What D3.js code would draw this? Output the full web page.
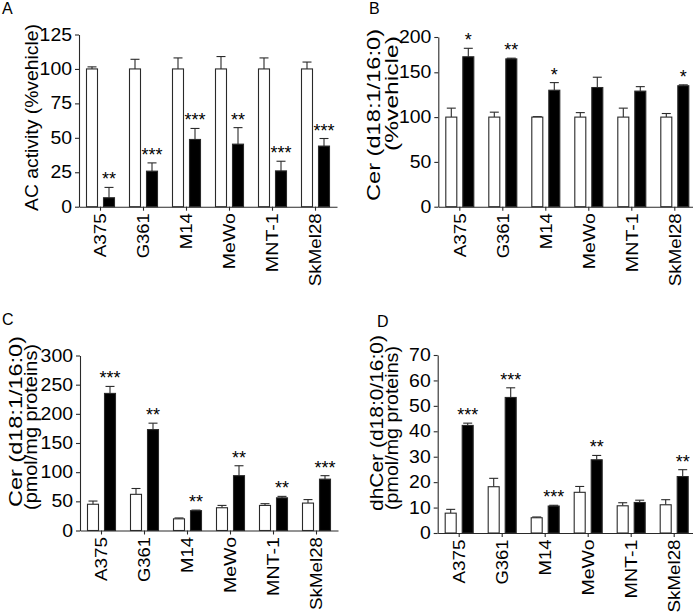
<!DOCTYPE html>
<html>
<head>
<meta charset="utf-8">
<script src="https://cdn.jsdelivr.net/npm/d3@7"></script>
<style>
  html, body { margin: 0; padding: 0; background: #fff; }
  svg { display: block; font-family: "Liberation Sans", Arial, Helvetica, sans-serif; }
</style>
</head>
<body>
<svg id="chart" width="693" height="616"></svg>
<script>
// ---------- data ----------
const categories = ["A375", "G361", "M14", "MeWo", "MNT-1", "SkMel28"];

// Panel A: AC activity (%vehicle)
const aVehicle     = [100, 100, 100, 100, 100, 100];
const aVehicleErr  = [1.5, 7, 8, 9, 8, 5];
const aTreated     = [6.5, 25.8, 48.8, 45.4, 26, 44];
const aTreatedErr  = [7.5, 6, 8, 12, 7, 5.5];
const aStars       = ["**", "***", "***", "**", "***", "***"];
const aTicks       = [0, 25, 50, 75, 100, 125];

// Panel B: Cer (d18:1/16:0) (%vehicle)
const bVehicle     = [100, 100, 100, 100, 100, 100];
const bVehicleErr  = [10, 5.5, 0.5, 5, 10, 4];
const bTreated     = [172, 169, 130, 133, 129, 135];
const bTreatedErr  = [12, 1, 8.5, 11.5, 5, 1];
const bStars       = ["*", "**", "*", "", "", "*"];
const bTicks       = [0, 50, 100, 150, 200];

// Panel C: Cer (d18:1/16:0) (pmol/mg proteins)
const cVehicle     = [45, 62, 20, 39, 43, 47];
const cVehicleErr  = [5.5, 10, 1.5, 4, 3, 6];
const cTreated     = [235, 173, 34, 94, 56, 88];
const cTreatedErr  = [12, 11, 1, 17, 2.5, 6];
const cStars       = ["***", "**", "**", "**", "**", "***"];
const cTicks       = [0, 50, 100, 150, 200, 250, 300];

// Panel D: dhCer (d18:0/16:0) (pmol/mg proteins)
const dVehicle     = [7.8, 18.2, 6, 16, 10.7, 11.1];
const dVehicleErr  = [1.5, 3.3, 0.3, 2.3, 1.2, 2];
const dTreated     = [42.3, 53.3, 10.6, 28.8, 12, 22.2];
const dTreatedErr  = [0.9, 3.8, 0.3, 1.7, 0.9, 2.7];
const dStars       = ["***", "***", "***", "**", "", "**"];
const dTicks       = [0, 10, 20, 30, 40, 50, 60, 70];

// ---------- layout ----------
const svg = d3.select("#chart");
const FONT = "Liberation Sans, Arial, Helvetica, sans-serif";
const INK = "#2a2a2a";
// rendered lengths (px) of the rotated category labels in the figure
const xLabelLen = { "A375": 44, "G361": 45, "M14": 36, "MeWo": 56, "MNT-1": 59, "SkMel28": 73 };
const TICK_FS = 17.5, TICK_CHAR = 10.8;   // y tick labels: size and width per character
const XLAB_FS = 17;

const panels = [
  { letter: "A", lx: 2, ly: 14,
    x0: 79, step: 43, domain: [0, 125], range: [206.7, 34.5],
    vehicle: aVehicle, vehicleErr: aVehicleErr, treated: aTreated, treatedErr: aTreatedErr,
    stars: aStars, ticks: aTicks,
    titles: [{ text: "AC activity (%vehicle)", x: 38, y: 211, len: 187, size: 19 }] },
  { letter: "B", lx: 369, ly: 14,
    x0: 438.3, step: 43, domain: [0, 150, 200], range: [206.7, 72.3, 37],
    vehicle: bVehicle, vehicleErr: bVehicleErr, treated: bTreated, treatedErr: bTreatedErr,
    stars: bStars, ticks: bTicks,
    titles: [{ text: "Cer (d18:1/16:0)", x: 380, y: 201, len: 172, size: 19 },
             { text: "(%vehicle)", x: 398, y: 151, len: 115, size: 19 }] },
  { letter: "C", lx: 2, ly: 325,
    x0: 80, step: 43, domain: [0, 300], range: [530.5, 355.5],
    vehicle: cVehicle, vehicleErr: cVehicleErr, treated: cTreated, treatedErr: cTreatedErr,
    stars: cStars, ticks: cTicks,
    titles: [{ text: "Cer (d18:1/16:0)", x: 22, y: 507, len: 171, size: 19 },
             { text: "(pmol/mg proteins)", x: 37, y: 510, len: 166, size: 19 }] },
  { letter: "D", lx: 377, ly: 327,
    x0: 437.7, step: 43, domain: [0, 70], range: [533, 355],
    vehicle: dVehicle, vehicleErr: dVehicleErr, treated: dTreated, treatedErr: dTreatedErr,
    stars: dStars, ticks: dTicks,
    titles: [{ text: "dhCer (d18:0/16:0)", x: 383, y: 511, len: 176, size: 19 },
             { text: "(pmol/mg proteins)", x: 398, y: 510, len: 164, size: 19 }] }
];

panels.forEach(p => {
  const g = svg.append("g");
  const x = d3.scaleBand().domain(categories)
    .range([p.x0, p.x0 + p.step * categories.length]).paddingInner(0).paddingOuter(0);
  const sub = d3.scaleBand().domain(["vehicle", "treated"])
    .range([0, x.bandwidth()]).paddingInner(0.353).paddingOuter(0.441);
  const y = d3.scaleLinear().domain(p.domain).range(p.range);
  const y0 = y(0);

  // panel letter
  g.append("text").attr("x", p.lx).attr("y", p.ly)
    .attr("font-size", 16).attr("font-family", FONT).attr("fill", "#000").text(p.letter);

  // y axis
  const ya = g.append("g").attr("transform", `translate(${p.x0},0)`)
    .call(d3.axisLeft(y).tickValues(p.ticks).tickSize(4).tickPadding(3).tickSizeOuter(0));
  ya.select(".domain").attr("stroke", INK).attr("stroke-width", 1.1);
  ya.selectAll(".tick line").attr("stroke", INK).attr("stroke-width", 1.1);
  ya.selectAll(".tick text")
    .attr("font-size", TICK_FS).attr("font-family", FONT).attr("fill", "#000")
    .attr("textLength", d => TICK_CHAR * String(d).length)
    .attr("lengthAdjust", "spacingAndGlyphs");

  // x axis
  const xa = g.append("g").attr("transform", `translate(0,${y0})`)
    .call(d3.axisBottom(x).tickSize(4).tickPadding(3).tickSizeOuter(0));
  xa.select(".domain").attr("stroke", INK).attr("stroke-width", 1.1);
  xa.selectAll(".tick line").attr("stroke", INK).attr("stroke-width", 1.1);
  xa.selectAll(".tick text")
    .attr("font-size", XLAB_FS).attr("font-family", FONT).attr("fill", "#000")
    .attr("transform", "rotate(-90)")
    .attr("text-anchor", "end")
    .attr("x", -6.5).attr("y", 0).attr("dy", "0.35em")
    .attr("textLength", d => xLabelLen[d])
    .attr("lengthAdjust", "spacingAndGlyphs");

  // bars
  const rows = categories.map((c, i) => ({
    c, i,
    series: [
      { key: "vehicle", v: p.vehicle[i], e: p.vehicleErr[i], fill: "#fff" },
      { key: "treated", v: p.treated[i], e: p.treatedErr[i], fill: "#000" }
    ]
  }));

  const grp = g.selectAll(".grp").data(rows).join("g")
    .attr("transform", d => `translate(${x(d.c)},0)`);

  grp.selectAll(".err").data(d => d.series).join("g").each(function(s) {
    const cx = sub(s.key) + sub.bandwidth() / 2;
    const sel = d3.select(this);
    sel.append("line").attr("x1", cx).attr("x2", cx)
      .attr("y1", y(s.v)).attr("y2", y(s.v + s.e))
      .attr("stroke", INK).attr("stroke-width", 1.1);
    sel.append("line").attr("x1", cx - 4.5).attr("x2", cx + 4.5)
      .attr("y1", y(s.v + s.e)).attr("y2", y(s.v + s.e))
      .attr("stroke", INK).attr("stroke-width", 1.1);
  });

  grp.selectAll("rect").data(d => d.series).join("rect")
    .attr("x", s => sub(s.key))
    .attr("width", sub.bandwidth())
    .attr("y", s => y(s.v))
    .attr("height", s => y0 - y(s.v))
    .attr("fill", s => s.fill)
    .attr("stroke", INK).attr("stroke-width", 1.1);

  // significance stars
  grp.append("text")
    .attr("x", sub("treated") + sub.bandwidth() / 2)
    .attr("y", d => y(d.series[1].v + d.series[1].e) - 2)
    .attr("text-anchor", "middle")
    .attr("font-size", 18).attr("font-family", FONT).attr("fill", "#000")
    .text(d => p.stars[d.i]);

  // y titles (rotated, starting at the bottom)
  p.titles.forEach(t => {
    g.append("text")
      .attr("transform", `translate(${t.x},${t.y}) rotate(-90)`)
      .attr("text-anchor", "start")
      .attr("font-size", t.size).attr("font-family", FONT).attr("fill", "#000")
      .attr("textLength", t.len).attr("lengthAdjust", "spacingAndGlyphs")
      .text(t.text);
  });
});
</script>
</body>
</html>
